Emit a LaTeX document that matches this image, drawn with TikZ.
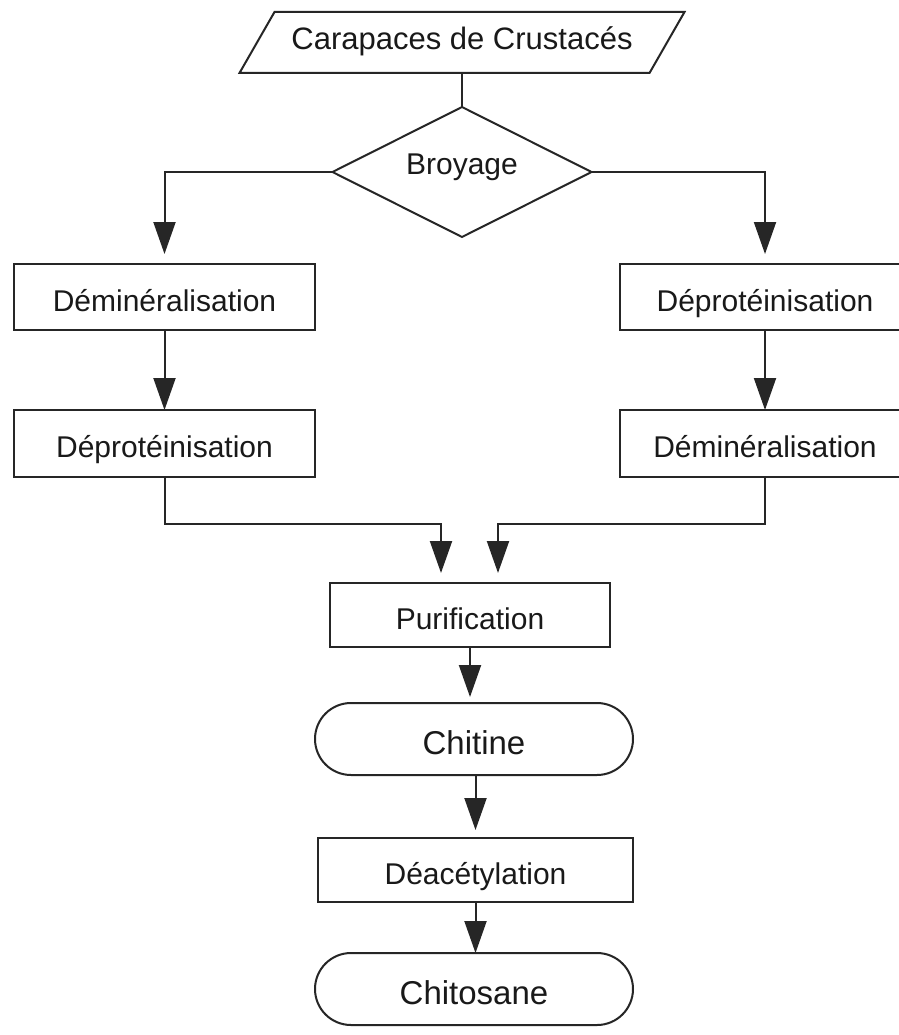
\documentclass[tikz,border=0pt]{standalone}
\usepackage{fontspec}
\setmainfont{Liberation Sans}
\usetikzlibrary{arrows.meta,shapes.geometric}
\begin{document}
\begin{tikzpicture}[x=1pt,y=-1pt,
  line/.style={draw=black!85, line width=2pt},
  arr/.style={line, -{Triangle[length=32pt,width=22pt]}},
  txt/.style={inner sep=0pt, outer sep=0pt, text=black!90, text height=28pt, text depth=0pt, font=\fontsize{30}{36}\selectfont},
  box/.style={txt, line, rectangle},
  term/.style={box, rounded corners=36pt, text height=31pt, font=\fontsize{33}{40}\selectfont},
]
\fill[white] (0,0) rectangle (898,1035);
\useasboundingbox (0,0) rectangle (898,1035);

% source (parallelogram)
\node[txt, rectangle, minimum width=375pt, minimum height=61pt, text height=29pt, text depth=14pt, font=\fontsize{31}{37}\selectfont] (src) at (462,42.5) {Carapaces de Crustacés};
\draw[line] ([xshift=-35pt]src.south west) -- (src.south east) -- ([xshift=35pt]src.north east) -- (src.north west) -- cycle;

% decision
\node[txt, line, diamond, aspect=2, minimum width=259pt, minimum height=130pt, text height=22pt, text depth=16pt] (dia) at (462,172) {Broyage};

% left branch
\node[box, minimum width=301pt, minimum height=66pt] (lb1) at (164.5,297) {Déminéralisation};
\node[box, minimum width=301pt, minimum height=67pt] (lb2) at (164.5,443.5) {Déprotéinisation};

% right branch
\node[box, minimum width=290pt, minimum height=66pt] (rb1) at (765,297) {Déprotéinisation};
\node[box, minimum width=290pt, minimum height=67pt] (rb2) at (765,443.5) {Déminéralisation};

% main chain
\node[box, minimum width=280pt, minimum height=64pt] (pur) at (470,615) {Purification};
\node[term, minimum width=318pt, minimum height=72pt] (chi) at (474,739) {Chitine};
\node[box, minimum width=315pt, minimum height=64pt] (dea) at (475.5,870) {Déacétylation};
\node[term, minimum width=318pt, minimum height=72pt] (cho) at (474,989) {Chitosane};

% connectors
\draw[line] (src.south) -- (dia.north);
\draw[arr, shorten >=10pt] (dia.west) -| (lb1.north);
\draw[arr, shorten >=10pt] (dia.east) -| (rb1.north);
\draw[arr] (lb1.south) -- (lb2.north);
\draw[arr] (rb1.south) -- (rb2.north);
\draw[arr, shorten >=10pt] (lb2.south) -- ++(0,47) -| ([xshift=-29pt]pur.north);
\draw[arr, shorten >=10pt] (rb2.south) -- ++(0,47) -| ([xshift=28pt]pur.north);
\draw[arr, shorten >=6pt] (pur.south) -- (pur.south |- chi.north);
\draw[arr, shorten >=8pt] (dea.north |- chi.south) -- (dea.north);
\draw[arr] (dea.south) -- (dea.south |- cho.north);
\end{tikzpicture}
\end{document}
